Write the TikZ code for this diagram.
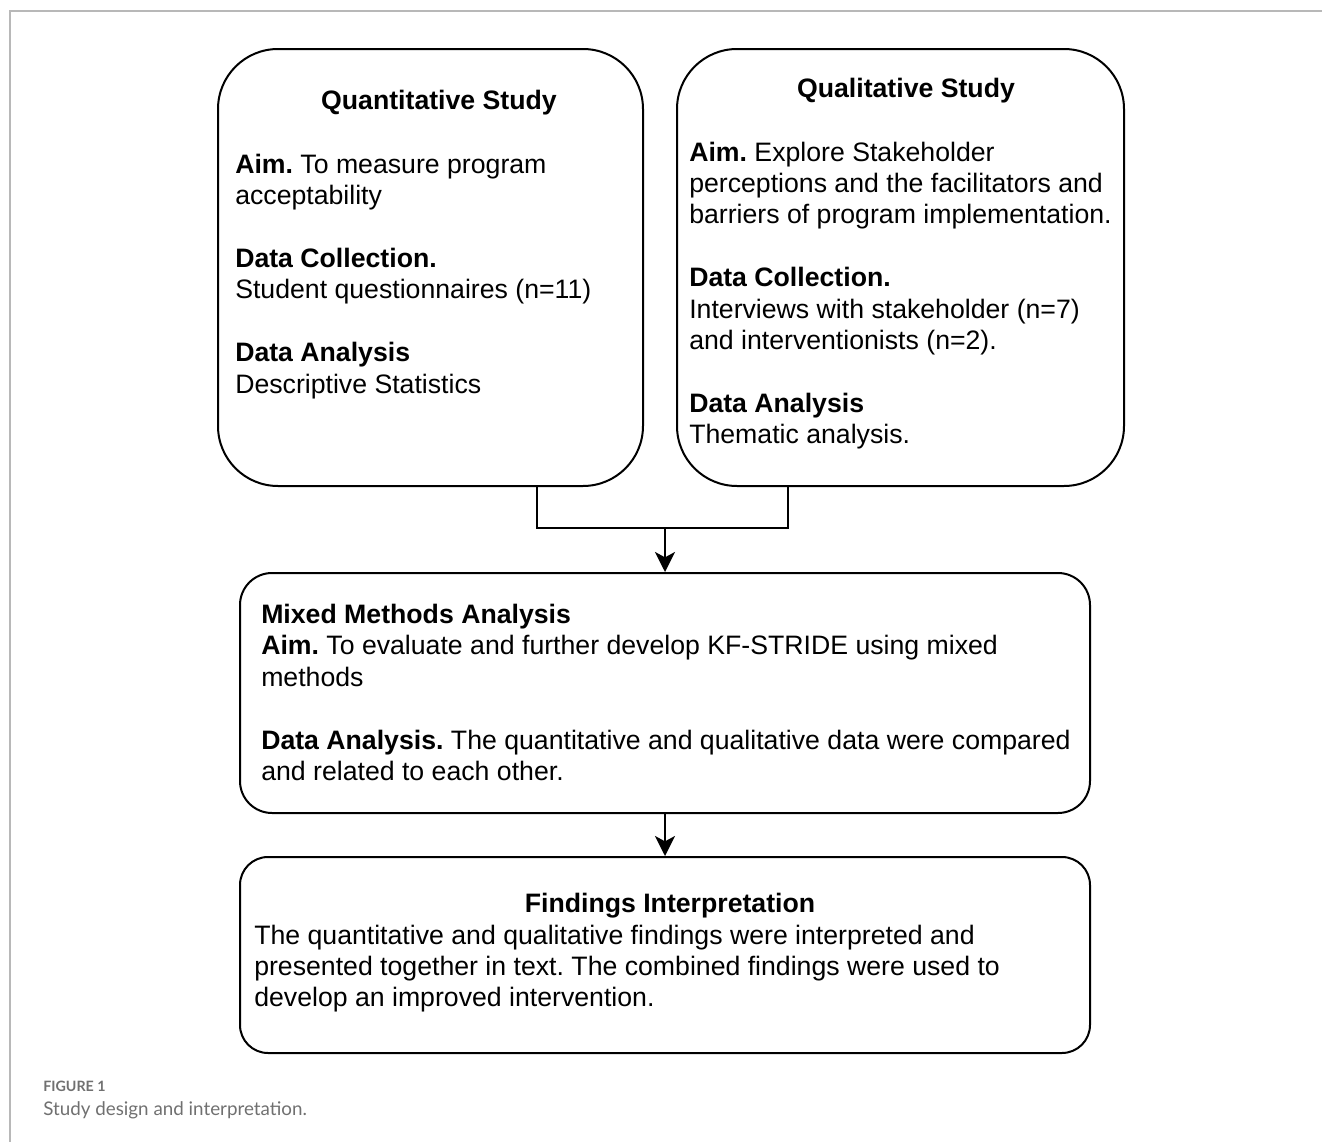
\documentclass[tikz,border=0pt]{standalone}
\usepackage{fontspec}
\setmainfont{Liberation Sans}
\newfontfamily\capfont{Lato}
\usetikzlibrary{fit,calc,arrows.meta}
\definecolor{capgray}{HTML}{707070}
\definecolor{framegray}{HTML}{B8B8B8}
\frenchspacing
\tikzset{
  box/.style={draw=black, line width=1.5pt, inner sep=0pt},
  txt/.style={font=\fontsize{20}{23.5}\selectfont, inner sep=0pt, anchor=base west},
  ttl/.style={font=\fontsize{20}{23.5}\selectfont\bfseries, inner sep=0pt, anchor=base},
  conn/.style={draw=black, line width=1.5pt},
  arr/.style={conn, -{Stealth[length=15pt, width=15pt, inset=4pt]}},
}
\begin{document}
\begin{tikzpicture}[x=0.75pt, y=-0.75pt]
\useasboundingbox (0,0) rectangle (1322,1142);
% frame
\draw[framegray, line width=1pt] (1322,11) -- (10,11) -- (10,1142);

% boxes
\node[box, rounded corners=45pt, fit={(218,49) (643,486)}] (quant) {};
\node[box, rounded corners=45pt, fit={(677,49) (1124,486)}] (qual) {};
\node[box, rounded corners=24pt, fit={(240,573) (1090,813)}] (mixed) {};
\node[box, rounded corners=21pt, fit={(240,857) (1090,1053)}] (find) {};

% quantitative text
\node[ttl] (qt) at (439,109) {Quantitative Study};
\node[txt] (q1) at (235,173) {\textbf{Aim.} To measure program};
\node[txt] (q2) at (235,204) {acceptability};
\node[txt] (q3) at (235,267) {\textbf{Data Collection.}};
\node[txt] (q4) at (235,298) {Student questionnaires (n=11)};
\node[txt] (q5) at (235,361) {\textbf{Data Analysis}};
\node[txt] (q6) at (235,393) {Descriptive Statistics};

% qualitative text
\node[ttl] (lt) at (906,97) {Qualitative Study};
\node[txt] (l1) at (689,161) {\textbf{Aim.} Explore Stakeholder};
\node[txt] (l2) at (689,192) {perceptions and the facilitators and};
\node[txt] (l3) at (689,223) {barriers of program implementation.};
\node[txt] (l4) at (689,286) {\textbf{Data Collection.}};
\node[txt] (l5) at (689,318) {Interviews with stakeholder (n=7)};
\node[txt] (l6) at (689,349) {and interventionists (n=2).};
\node[txt] (l7) at (689,412) {\textbf{Data Analysis}};
\node[txt] (l8) at (689,443) {Thematic analysis.};

% mixed methods text
\node[txt] (m1) at (261,623) {\textbf{Mixed Methods Analysis}};
\node[txt] (m2) at (261,654) {\textbf{Aim.} To evaluate and further develop KF-STRIDE using mixed};
\node[txt] (m3) at (261,686) {methods};
\node[txt] (m4) at (261,749) {\textbf{Data Analysis.} The quantitative and qualitative data were compared};
\node[txt] (m5) at (261,780) {and related to each other.};

% findings text
\node[ttl] (ft) at (670,912) {Findings Interpretation};
\node[txt] (f1) at (254,944) {The quantitative and qualitative findings were interpreted and};
\node[txt] (f2) at (254,975) {presented together in text. The combined findings were used to};
\node[txt] (f3) at (254,1006) {develop an improved intervention.};

% connectors
\coordinate (j) at (665,528);
\draw[conn] ($(quant.south west)!0.75!(quant.south east)$) |- (j);
\draw[conn] ($(qual.south west)!0.25!(qual.south east)$) |- (j);
\draw[arr] (j) -- (mixed.north);
\draw[arr] (mixed.south) -- (find.north);

% caption
\node[inner sep=0pt, anchor=base west, text=capgray, font=\capfont\fontsize{10.7}{12}\selectfont\bfseries] (cap1) at (43,1091) {FIGURE 1};
\node[inner sep=0pt, anchor=base west, text=capgray, font=\capfont\fontsize{14.1}{16}\selectfont] (cap2) at (43,1115) {Study design and interpretation.};
\end{tikzpicture}
\end{document}
